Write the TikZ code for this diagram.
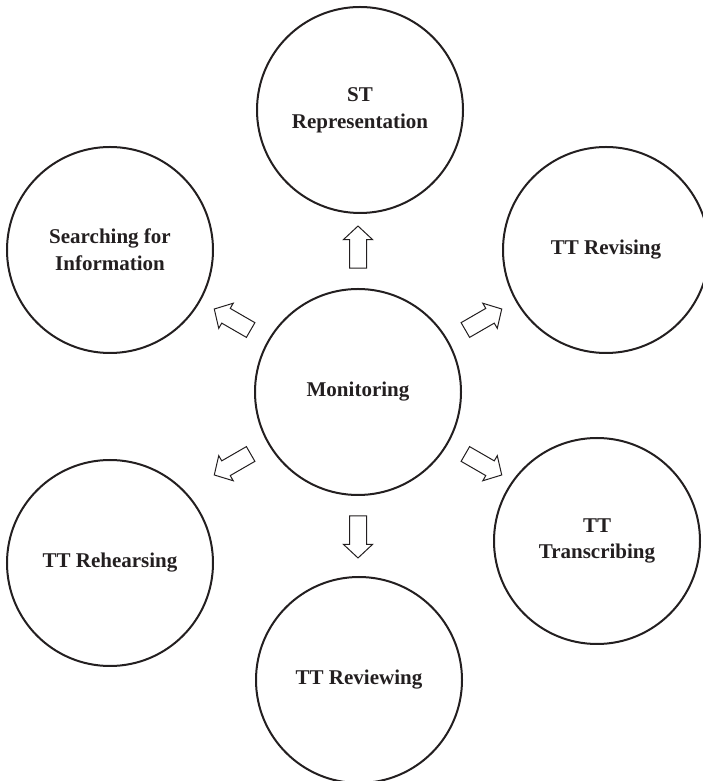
\documentclass[tikz,border=0pt]{standalone}
\usepackage{fontspec}
\setmainfont{Liberation Serif}
\usetikzlibrary{shapes.arrows,calc}
\definecolor{inkgray}{RGB}{35,31,32}
\tikzset{
  stage/.style ={circle, draw=inkgray, line width=1pt, minimum size=103pt, inner sep=0pt,
                 align=center, font=\fontsize{10.5}{13.3}\selectfont\bfseries, text=inkgray},
  blk/.style   ={single arrow, draw=inkgray, line width=0.5pt, fill=white, minimum height=21pt,
                 text height=0pt, text depth=0pt, inner xsep=0pt, inner ysep=4pt,
                 single arrow head extend=3pt, single arrow tip angle=94}
}
\begin{document}
\begin{tikzpicture}[x=0.5pt, y=0.5pt]
\useasboundingbox (0,0) rectangle (702,781);
% centre
\node[stage] (mon) at (358,389) {Monitoring};
% outer stages
\node[stage] (st)   at (360,671) {ST\\Representation};
\node[stage] (srch) at (110,531) {Searching for\\Information};
\node[stage] (rev)  at (606,531) {TT Revising};
\node[stage] (reh)  at (110,218) {TT Rehearsing};
\node[stage] (trn)  at (597,240) {TT\\Transcribing};
\node[stage] (rvw)  at (359,101) {TT Reviewing};
% block arrows out of monitoring
\foreach \ang/\nm in {90/ast, 150/asrch, 30/arev, 210/areh, 330/atrn, 270/arvw}
  \node[blk, rotate=\ang] (\nm) at ($(mon)+(\ang:141)$) {};
\end{tikzpicture}
\end{document}
